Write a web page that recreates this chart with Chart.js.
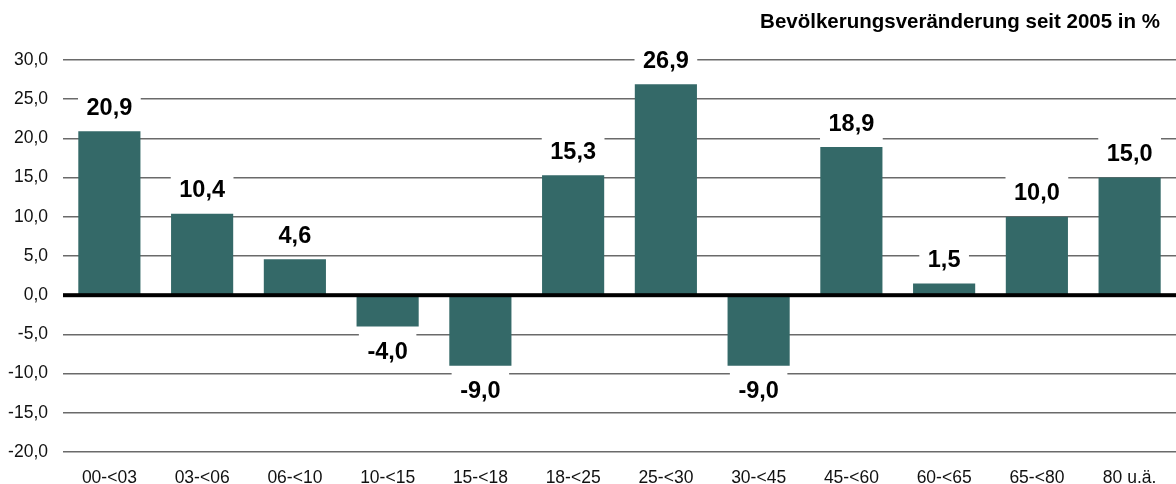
<!DOCTYPE html>
<html lang="de">
<head>
<meta charset="utf-8">
<title>Bevölkerungsveränderung seit 2005</title>
<script src="https://cdn.jsdelivr.net/npm/chart.js@4.4.1/dist/chart.umd.min.js"></script>
<style>
    html, body { margin: 0; padding: 0; background: #fff; }
    #wrap { width: 1176px; height: 484px; position: relative; }
</style>
</head>
<body>
<div id="wrap"><canvas id="age_change"></canvas></div>
<script>
const ageGroups = ['00-<03', '03-<06', '06-<10', '10-<15', '15-<18', '18-<25', '25-<30', '30-<45', '45-<60', '60-<65', '65-<80', '80 u.ä.'];
const changeValues = [20.9, 10.4, 4.6, -4.0, -9.0, 15.3, 26.9, -9.0, 18.9, 1.5, 10.0, 15.0];
const yTicks = [30, 25, 20, 15, 10, 5, 0, -5, -10, -15, -20];
const chartTitle = 'Bevölkerungsveränderung seit 2005 in %';

const fmt = v => v.toFixed(1).replace('.', ',');
const FONT = '"Liberation Sans", Arial, sans-serif';

// value labels with white box + heavy zero line drawn over the bars, title top right
const valueLabels = {
    id: 'valueLabels',
    afterDatasetsDraw(chart) {
        const { ctx, chartArea, scales } = chart;
        const y0 = scales.y.getPixelForValue(0);
        ctx.save();
        ctx.fillStyle = '#000';
        ctx.fillRect(chartArea.left, y0 - 2, chartArea.right - chartArea.left, 4);

        ctx.font = 'bold 23.5px ' + FONT;
        ctx.textAlign = 'center';
        ctx.textBaseline = 'middle';
        chart.getDatasetMeta(0).data.forEach((bar, i) => {
            const v = changeValues[i];
            const text = fmt(v);
            const w = ctx.measureText(text).width + 17;
            const h = 36;
            const boxTop = v >= 0 ? bar.y - 5 - h : bar.y + 5;
            const cy = v >= 0 ? bar.y - 24 : bar.y + 25;
            ctx.fillStyle = '#fff';
            ctx.fillRect(bar.x - w / 2, boxTop, w, h);
            ctx.fillStyle = '#000';
            ctx.fillText(text, bar.x, cy + 1);
        });

        ctx.font = 'bold 20.5px ' + FONT;
        ctx.textAlign = 'right';
        ctx.fillText(chartTitle, chart.width - 16, 22);
        ctx.restore();
    }
};

const chart = new Chart(document.getElementById('age_change').getContext('2d'), {
    type: 'bar',
    data: {
        labels: ageGroups,
        datasets: [{
            data: changeValues,
            backgroundColor: '#346968',
            borderWidth: 0,
            barPercentage: 0.67,
            categoryPercentage: 1.0
        }]
    },
    options: {
        responsive: true,
        maintainAspectRatio: false,
        animation: false,
        layout: { padding: { left: 0, right: 0, top: 60, bottom: 0 } },
        plugins: {
            legend: { display: false },
            tooltip: { enabled: false },
            title: { display: false }
        },
        scales: {
            x: {
                afterFit: axis => { axis.height = 32; },
                grid: { display: false },
                border: { display: false },
                ticks: {
                    color: '#111',
                    font: { family: FONT, size: 17.5 },
                    padding: 8
                }
            },
            y: {
                min: -20,
                max: 30,
                afterBuildTicks: axis => { axis.ticks = yTicks.map(v => ({ value: v })); },
                afterFit: axis => { axis.width = 63; },
                grid: {
                    color: '#6a6a6a',
                    lineWidth: 1.5,
                    drawTicks: false
                },
                border: { display: false },
                ticks: {
                    color: '#111',
                    font: { family: FONT, size: 17.5 },
                    padding: 15,
                    callback: v => fmt(v)
                }
            }
        }
    },
    plugins: [valueLabels]
});
</script>
</body>
</html>
